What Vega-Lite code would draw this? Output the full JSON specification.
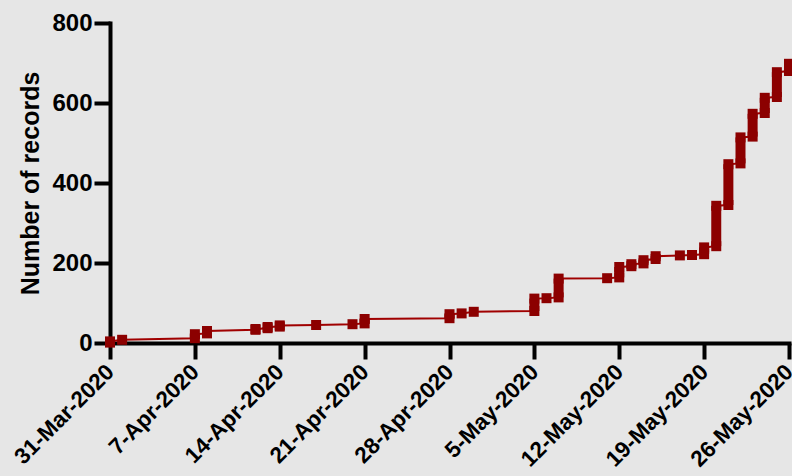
{
  "$schema": "https://vega.github.io/schema/vega-lite/v6.json",
  "width": 679,
  "height": 320,
  "autosize": {"type": "none"},
  "padding": {"left": 110, "top": 23, "right": 3, "bottom": 133},
  "background": "#e6e6e6",
  "config": {
    "view": {"stroke": null},
    "font": "Liberation Sans",
    "axis": {
      "domainColor": "#000000",
      "domainWidth": 4,
      "domainCap": "square",
      "tickColor": "#000000",
      "tickWidth": 4,
      "tickSize": 16,
      "grid": false,
      "labelColor": "#000000",
      "labelFont": "Liberation Sans",
      "labelFontWeight": "bold",
      "titleColor": "#000000",
      "titleFont": "Liberation Sans",
      "titleFontWeight": "bold"
    },
    "axisY": {"labelFontSize": 24, "labelPadding": 2, "titleFontSize": 25, "titlePadding": 8},
    "axisX": {"labelFontSize": 22.5, "labelPadding": 9, "labelAngle": -45, "labelOverlap": false, "labelFlush": false, "labelBound": false}
  },
  "data": {
    "values": [
      {"date": "2020-03-31", "n": 1},
      {"date": "2020-03-31", "n": 4},
      {"date": "2020-04-01", "n": 8},
      {"date": "2020-04-07", "n": 12},
      {"date": "2020-04-07", "n": 22},
      {"date": "2020-04-08", "n": 24},
      {"date": "2020-04-08", "n": 30},
      {"date": "2020-04-12", "n": 33},
      {"date": "2020-04-12", "n": 35},
      {"date": "2020-04-13", "n": 37},
      {"date": "2020-04-13", "n": 40},
      {"date": "2020-04-14", "n": 41},
      {"date": "2020-04-14", "n": 44},
      {"date": "2020-04-17", "n": 45},
      {"date": "2020-04-20", "n": 47},
      {"date": "2020-04-21", "n": 49},
      {"date": "2020-04-21", "n": 60},
      {"date": "2020-04-28", "n": 62},
      {"date": "2020-04-28", "n": 72},
      {"date": "2020-04-29", "n": 74},
      {"date": "2020-04-30", "n": 78},
      {"date": "2020-05-05", "n": 80},
      {"date": "2020-05-05", "n": 111},
      {"date": "2020-05-06", "n": 112},
      {"date": "2020-05-07", "n": 114},
      {"date": "2020-05-07", "n": 161},
      {"date": "2020-05-11", "n": 162},
      {"date": "2020-05-12", "n": 164},
      {"date": "2020-05-12", "n": 190},
      {"date": "2020-05-13", "n": 192},
      {"date": "2020-05-13", "n": 197},
      {"date": "2020-05-14", "n": 199},
      {"date": "2020-05-14", "n": 207},
      {"date": "2020-05-15", "n": 210},
      {"date": "2020-05-15", "n": 217},
      {"date": "2020-05-17", "n": 219},
      {"date": "2020-05-18", "n": 220},
      {"date": "2020-05-19", "n": 222},
      {"date": "2020-05-19", "n": 239},
      {"date": "2020-05-20", "n": 242},
      {"date": "2020-05-20", "n": 343},
      {"date": "2020-05-21", "n": 345},
      {"date": "2020-05-21", "n": 447},
      {"date": "2020-05-22", "n": 449},
      {"date": "2020-05-22", "n": 514},
      {"date": "2020-05-23", "n": 516},
      {"date": "2020-05-23", "n": 573},
      {"date": "2020-05-24", "n": 575},
      {"date": "2020-05-24", "n": 613},
      {"date": "2020-05-25", "n": 615},
      {"date": "2020-05-25", "n": 677},
      {"date": "2020-05-26", "n": 680},
      {"date": "2020-05-26", "n": 698}
    ]
  },
  "encoding": {
    "x": {
      "field": "date",
      "type": "temporal",
      "title": null,
      "scale": {
        "type": "utc",
        "domain": [
          {"year": 2020, "month": 3, "date": 31, "utc": true},
          {"year": 2020, "month": 5, "date": 26, "utc": true}
        ]
      },
      "axis": {
        "labelExpr": "utcFormat(datum.value, '%-d-%b-%Y')",
        "labelAlign": "right",
        "labelBaseline": "middle",
        "labelOverlap": false,
        "labelFlush": false,
        "values": [
          {"year": 2020, "month": 3, "date": 31, "utc": true},
          {"year": 2020, "month": 4, "date": 7, "utc": true},
          {"year": 2020, "month": 4, "date": 14, "utc": true},
          {"year": 2020, "month": 4, "date": 21, "utc": true},
          {"year": 2020, "month": 4, "date": 28, "utc": true},
          {"year": 2020, "month": 5, "date": 5, "utc": true},
          {"year": 2020, "month": 5, "date": 12, "utc": true},
          {"year": 2020, "month": 5, "date": 19, "utc": true},
          {"year": 2020, "month": 5, "date": 26, "utc": true}
        ]
      }
    },
    "y": {
      "field": "n",
      "type": "quantitative",
      "title": "Number of records",
      "scale": {"domain": [0, 800], "nice": false},
      "axis": {"values": [0, 200, 400, 600, 800]}
    }
  },
  "layer": [
    {
      "mark": {"type": "line", "color": "#a00000", "strokeWidth": 2},
      "encoding": {"order": {"field": "n", "type": "quantitative"}}
    },
    {
      "mark": {"type": "rule", "color": "#8c0000", "strokeWidth": 10},
      "encoding": {
        "y": {"aggregate": "min", "field": "n", "type": "quantitative", "title": "Number of records"},
        "y2": {"aggregate": "max", "field": "n"}
      }
    },
    {
      "mark": {"type": "point", "shape": "square", "filled": true, "size": 100, "color": "#8c0000", "opacity": 1, "strokeWidth": 0}
    }
  ]
}
